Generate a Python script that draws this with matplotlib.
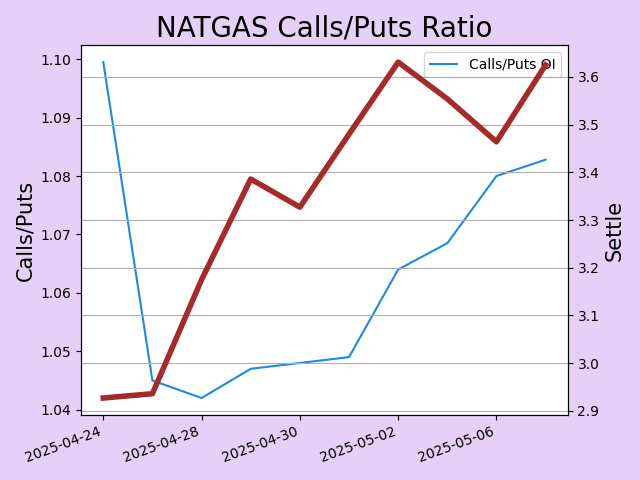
import matplotlib
matplotlib.use("Agg")
import matplotlib.pyplot as plt

dates = ["2025-04-24", "2025-04-25", "2025-04-28", "2025-04-29", "2025-04-30",
         "2025-05-01", "2025-05-02", "2025-05-05", "2025-05-06", "2025-05-07"]
ratio = [1.0995, 1.045, 1.042, 1.047, 1.048, 1.049, 1.064, 1.0685, 1.080, 1.0828]
settle = [2.927, 2.936, 3.175, 3.386, 3.327, 3.48, 3.631, 3.554, 3.464, 3.625]

x = list(range(len(dates)))
fig, ax = plt.subplots(figsize=(6.4, 4.8), dpi=100)
fig.patch.set_facecolor("#e6d0f8")
ax.plot(x, ratio, color="#1e88e5", label="Calls/Puts OI")
ax.set_ylabel("Calls/Puts", fontsize=15)
ax.set_xticks(x[::2])
ax.set_xticklabels(dates[::2], rotation=20, ha="right")
ax.legend(loc="upper right")

ax2 = ax.twinx()
ax2.plot(x, settle, color="#a52a2a", linewidth=4)
ax2.set_ylabel("Settle", fontsize=15)
ax2.grid(True, axis="y")
ax.set_title("NATGAS Calls/Puts Ratio", fontsize=20)
fig.tight_layout()
fig.savefig("out.png")
